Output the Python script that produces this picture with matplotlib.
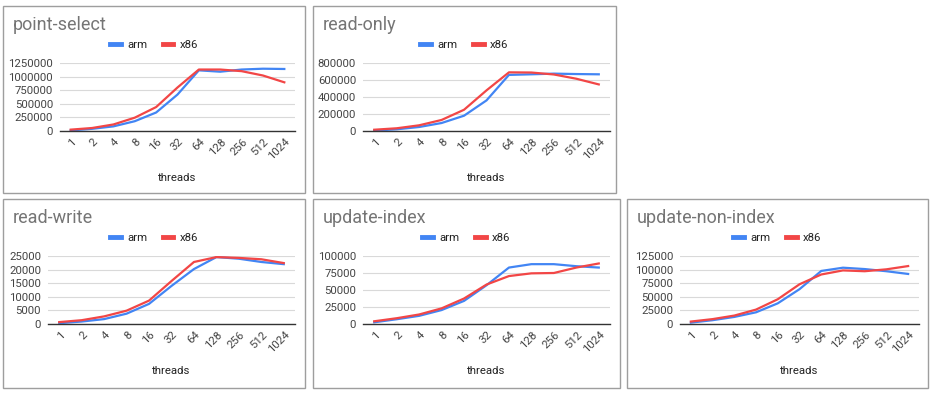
import matplotlib
matplotlib.use("Agg")
import matplotlib.pyplot as plt
from matplotlib.patches import Rectangle
from matplotlib.lines import Line2D
import matplotlib.transforms as mtransforms

plt.rcParams['font.family'] = ['Roboto', 'DejaVu Sans']

threads = ["1", "2", "4", "8", "16", "32", "64", "128", "256", "512", "1024"]

point_select_arm = [10000, 40000, 85000, 180000, 340000, 670000, 1115000, 1090000, 1130000, 1145000, 1140000]
point_select_x86 = [25000, 55000, 120000, 245000, 440000, 800000, 1130000, 1130000, 1100000, 1020000, 895000]

read_only_arm = [5000, 20000, 47000, 94000, 180000, 360000, 660000, 667000, 675000, 670000, 667000]
read_only_x86 = [15000, 32000, 67000, 130000, 250000, 478000, 690000, 688000, 665000, 615000, 548000]

read_write_arm = [300, 900, 1800, 3800, 7400, 14000, 20200, 24600, 24000, 22800, 22000]
read_write_x86 = [700, 1400, 2800, 4900, 8600, 15800, 22800, 24600, 24300, 23800, 22400]

update_index_arm = [2500, 7000, 12000, 20500, 34000, 57000, 83000, 88000, 88000, 85000, 83000]
update_index_x86 = [4000, 8500, 14000, 23000, 37500, 58000, 70500, 74500, 75000, 83000, 89000]

update_non_index_arm = [2500, 7000, 13000, 21500, 38000, 64000, 97500, 103500, 101000, 97000, 92000]
update_non_index_x86 = [4500, 9000, 15500, 26500, 45500, 73000, 91000, 98500, 97000, 100500, 106500]

titles = ["point-select", "read-only", "read-write", "update-index", "update-non-index"]
series_names = ["arm", "x86"]
x_label = "threads"

W, H = 937, 393
BLUE = "#4285F4"
RED = "#F24646"

fig = plt.figure(figsize=(W / 100, H / 100), dpi=100)

panels = [
    dict(box=(3, 6, 305, 193), ax=(60, 63, 295, 131), ymax=1250000, step=250000,
         data=(point_select_arm, point_select_x86), title=titles[0]),
    dict(box=(313, 6, 616, 193), ax=(363, 63, 610, 131), ymax=800000, step=200000,
         data=(read_only_arm, read_only_x86), title=titles[1]),
    dict(box=(3, 199, 305, 388), ax=(48, 256, 295, 324), ymax=25000, step=5000,
         data=(read_write_arm, read_write_x86), title=titles[2]),
    dict(box=(313, 199, 620, 388), ax=(363, 256, 610, 324), ymax=100000, step=25000,
         data=(update_index_arm, update_index_x86), title=titles[3]),
    dict(box=(627, 199, 928, 388), ax=(680, 256, 919, 324), ymax=125000, step=25000,
         data=(update_non_index_arm, update_non_index_x86), title=titles[4]),
]


def fx(x):
    return x / W


def fy(y):
    return 1 - y / H


for p in panels:
    bx0, by0, bx1, by1 = p["box"]
    fig.patches.append(Rectangle((fx(bx0), fy(by1)), fx(bx1 - bx0), (by1 - by0) / H,
                                 transform=fig.transFigure, fill=False,
                                 edgecolor="#9E9E9E", linewidth=1.0))
    ax0, ay0, ax1, ay1 = p["ax"]
    ax = fig.add_axes([fx(ax0), fy(ay1), fx(ax1 - ax0), (ay1 - ay0) / H])
    xs = list(range(len(threads)))
    arm, x86 = p["data"]
    ax.plot(xs, arm, color=BLUE, lw=1.6, solid_joinstyle="round", zorder=3)
    ax.plot(xs, x86, color=RED, lw=1.6, solid_joinstyle="round", zorder=4)
    ax.set_xlim(-0.5, len(threads) - 0.5)
    ax.set_ylim(0, p["ymax"])
    yt = list(range(0, p["ymax"] + 1, p["step"]))
    ax.set_yticks(yt)
    ax.set_yticklabels([str(v) for v in yt], fontsize=8.2, color="#444444")
    ax.set_xticks(xs)
    ax.set_xticklabels([])
    offset = mtransforms.ScaledTranslation(4 / 100, -9 / 100, fig.dpi_scale_trans)
    for xi, lab in zip(xs, threads):
        ax.text(xi, 0, lab, transform=ax.get_xaxis_transform() + offset,
                fontsize=8.2, color="#444444", rotation=45, ha="right", va="center",
                rotation_mode="anchor", clip_on=False)
    ax.tick_params(axis="both", length=0)
    ax.tick_params(axis="y", pad=5)
    for s in ["top", "right", "left"]:
        ax.spines[s].set_visible(False)
    ax.spines["bottom"].set_color("#333333")
    ax.spines["bottom"].set_linewidth(1.0)
    ax.spines["bottom"].set_zorder(5)
    ax.grid(axis="y", color="#D9D9D9", linewidth=0.8)
    ax.set_axisbelow(True)
    ax.patch.set_alpha(0)

    fig.text(fx(bx0 + 10), fy(by0 + 19), p["title"], fontsize=13, color="#757575",
             ha="left", va="center")
    fig.text(fx((ax0 + ax1) / 2), fy(by0 + 172), x_label, fontsize=8.2, color="#222222",
             ha="center", va="center")
    handles = [Line2D([0], [0], color=BLUE, lw=3.5), Line2D([0], [0], color=RED, lw=3.5)]
    fig.legend(handles, series_names, loc="center",
               bbox_to_anchor=(fx((bx0 + bx1) / 2), fy(by0 + 39)),
               bbox_transform=fig.transFigure, ncol=2, frameon=False, fontsize=8.2,
               handlelength=0.95, handletextpad=0.55, columnspacing=1.35,
               labelcolor="#222222")

fig.savefig("out.png", dpi=100)
